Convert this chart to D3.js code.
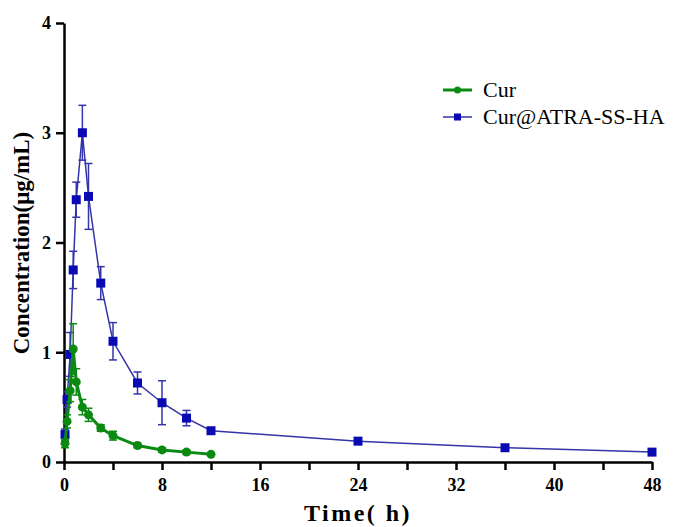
<head>
<script src="https://d3js.org/d3.v7.min.js"></script>
<style>
  body { margin: 0; background: #fff; }
  .tick text { font-family: "Liberation Serif", serif; font-weight: bold; font-size: 18px; }
</style>
</head>
<body>
<svg id="chart"></svg>
<script>
// sampling times (h)
var times = [0.083, 0.25, 0.5, 0.75, 1, 1.5, 2, 3, 4, 6, 8, 10, 12, 24, 36, 48];
// Cur@ATRA-SS-HA
var hybMean = [0.25, 0.57, 0.98, 1.75, 2.39, 3.0, 2.42, 1.63, 1.1, 0.72, 0.54, 0.40, 0.285, 0.19, 0.13, 0.09];
var hybSd   = [0.05, 0.07, 0.2, 0.17, 0.16, 0.25, 0.3, 0.15, 0.17, 0.1, 0.2, 0.07, 0.02, 0.01, 0.01, 0.01];
// free Cur (sampled up to 12 h)
var curMean = [0.17, 0.37, 0.65, 1.03, 0.73, 0.50, 0.43, 0.31, 0.24, 0.15, 0.11, 0.09, 0.07];
var curSd   = [0.04, 0.06, 0.1, 0.23, 0.12, 0.07, 0.06, 0.03, 0.04, 0.02, 0.02, 0.02, 0.01];

var xTicks = [0, 4, 8, 12, 16, 20, 24, 28, 32, 36, 40, 44, 48];
var yTicks = [0, 1, 2, 3, 4];

var W = 679, H = 527;
var green = "#0b8a12", blue = "#0a0ab4", blueLine = "#3535aa";

var svg = d3.select("#chart").attr("width", W).attr("height", H);

var x = d3.scaleLinear().domain([0, 48]).range([64, 652]);
var y = d3.scaleLinear().domain([0, 4]).range([462, 23]);

// axes
var xAxis = svg.append("g")
  .attr("transform", "translate(0," + y(0) + ")")
  .call(d3.axisBottom(x).tickValues(xTicks).tickSize(8).tickSizeOuter(0).tickPadding(8)
    .tickFormat(d => d % 8 === 0 ? d : ""));
var yAxis = svg.append("g")
  .attr("transform", "translate(" + x(0) + ",0)")
  .call(d3.axisLeft(y).tickValues(yTicks).tickSize(8).tickSizeOuter(0).tickPadding(5)
    .tickFormat(d3.format("d")));
[xAxis, yAxis].forEach(a => {
  a.selectAll("path, line").attr("stroke", "#000").attr("stroke-width", 2.5);
  a.selectAll("text").attr("fill", "#000");
});

function series(xs, ms, sds, col, lineCol, lw, shape) {
  var pts = xs.map((t, i) => ({ t: t, m: ms[i], s: sds[i] }));
  var g = svg.append("g");
  g.append("path").datum(pts)
    .attr("fill", "none").attr("stroke", lineCol).attr("stroke-width", lw)
    .attr("d", d3.line().x(d => x(d.t)).y(d => y(d.m)));
  // error bars
  pts.forEach(d => {
    var cx = x(d.t);
    g.append("line").attr("x1", cx).attr("x2", cx)
      .attr("y1", y(d.m + d.s)).attr("y2", y(d.m - d.s))
      .attr("stroke", lineCol).attr("stroke-width", 1.5);
    [d.m + d.s, d.m - d.s].forEach(v => {
      g.append("line").attr("x1", cx - 4).attr("x2", cx + 4)
        .attr("y1", y(v)).attr("y2", y(v))
        .attr("stroke", lineCol).attr("stroke-width", 1.5);
    });
  });
  pts.forEach(d => {
    if (shape === "circle") {
      g.append("circle").attr("cx", x(d.t)).attr("cy", y(d.m)).attr("r", 4.5).attr("fill", col);
    } else {
      g.append("rect").attr("x", x(d.t) - 4.5).attr("y", y(d.m) - 4.5)
        .attr("width", 9).attr("height", 9).attr("fill", col);
    }
  });
}

series(times, hybMean, hybSd, blue, blueLine, 1.5, "square");
series(times.slice(0, curMean.length), curMean, curSd, green, green, 3, "circle");

// axis titles
svg.append("text")
  .attr("x", 358).attr("y", 521).attr("text-anchor", "middle")
  .style("font-family", "Liberation Serif, serif").style("font-weight", "bold")
  .style("font-size", "24px").style("letter-spacing", "2.5px")
  .text("Time( h)");
svg.append("text")
  .attr("transform", "translate(29,243) rotate(-90)").attr("text-anchor", "middle")
  .style("font-family", "Liberation Serif, serif").style("font-weight", "bold")
  .style("font-size", "23px")
  .text("Concentration(μg/mL)");

// legend
var legend = [
  { name: "Cur", col: green, line: green, lw: 3, shape: "circle" },
  { name: "Cur@ATRA-SS-HA", col: blue, line: blueLine, lw: 1.5, shape: "square" }
];
legend.forEach((l, i) => {
  var ly = 90 + i * 27;
  svg.append("line").attr("x1", 443).attr("x2", 472).attr("y1", ly).attr("y2", ly)
    .attr("stroke", l.line).attr("stroke-width", l.lw);
  if (l.shape === "circle") {
    svg.append("circle").attr("cx", 457.5).attr("cy", ly).attr("r", 3.5).attr("fill", l.col);
  } else {
    svg.append("rect").attr("x", 454).attr("y", ly - 3.5).attr("width", 7).attr("height", 7).attr("fill", l.col);
  }
  svg.append("text").attr("x", 483).attr("y", ly + 7)
    .style("font-family", "Liberation Serif, serif").style("font-size", "22px")
    .text(l.name);
});
</script>
</body>
